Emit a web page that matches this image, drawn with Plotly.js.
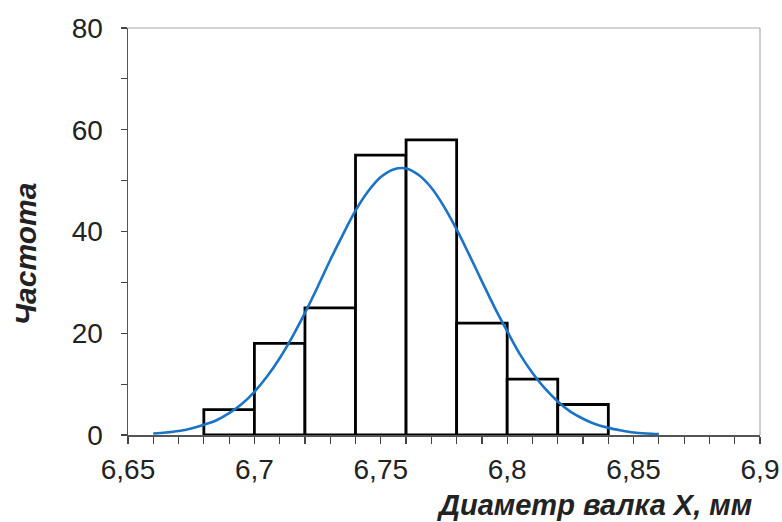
<!DOCTYPE html>
<html><head><meta charset="utf-8">
<script src="https://cdn.plot.ly/plotly-3.0.1.min.js"></script>
<style>body{margin:0;background:#fff}#c{width:782px;height:522px}</style>
</head><body><div id="c"></div>
<script>
// Histogram bins (centers) and frequencies
const binCenters = [6.69, 6.71, 6.73, 6.75, 6.77, 6.79, 6.81, 6.83];
const binWidth = 0.02;
const freq = [5, 18, 25, 55, 58, 22, 11, 6];

// Fitted normal curve
const curveX = [6.660,6.665,6.670,6.675,6.680,6.685,6.690,6.695,6.700,6.705,6.710,6.715,6.720,6.725,6.730,6.735,6.740,6.745,6.750,6.755,6.760,6.765,6.770,6.775,6.780,6.785,6.790,6.795,6.800,6.805,6.810,6.815,6.820,6.825,6.830,6.835,6.840,6.845,6.850,6.855,6.860];
const curveY = [0.3,0.5,0.8,1.3,2.0,2.9,4.3,6.1,8.5,11.5,15.1,19.3,24.0,29.1,34.4,39.4,44.1,47.9,50.7,52.2,52.4,51.1,48.6,44.9,40.4,35.4,30.2,25.1,20.4,15.9,12.2,9.1,6.6,4.6,3.2,2.1,1.4,0.9,0.5,0.3,0.2];

const xTickVals = [6.65, 6.7, 6.75, 6.8, 6.85, 6.9];
const xTickText = ['6,65', '6,7', '6,75', '6,8', '6,85', '6,9'];
const xMinorVals = [6.66,6.67,6.68,6.69,6.71,6.72,6.73,6.74,6.76,6.77,6.78,6.79,6.81,6.82,6.83,6.84,6.86,6.87,6.88,6.89];
const yTickVals = [0, 20, 40, 60, 80];
const yTickText = ['0', '20', '40', '60', '80'];
const yMinorVals = [10, 30, 50, 70];

const traces = [
  {type:'bar', x: binCenters, y: freq, width: binCenters.map(()=>binWidth),
   marker:{color:'#ffffff', line:{color:'#000000', width:2.8}}, hoverinfo:'skip'},
  {type:'scatter', mode:'lines', x: curveX, y: curveY,
   line:{color:'#1a73c6', width:2.6, shape:'spline'}, hoverinfo:'skip'}
];

const fam = 'Liberation Sans, Arial, sans-serif';
const tickFont = {family:fam, size:28, color:'#222'};
const layout = {
  width:782, height:522,
  margin:{l:128, r:22, t:28, b:87},
  paper_bgcolor:'#fff', plot_bgcolor:'#fff',
  showlegend:false,
  separators:', ',
  bargap:0,
  xaxis:{range:[6.65, 6.9], tickvals:xTickVals, ticktext:xTickText,
    ticks:'outside', ticklen:7, tickwidth:1.2, tickcolor:'#444',
    minor:{tickvals:xMinorVals, ticks:'outside', ticklen:7, tickwidth:1.2, tickcolor:'#444', showgrid:false},
    showline:true, linecolor:'#555', linewidth:1.5, showgrid:false, zeroline:false,
    tickfont:tickFont, ticklabelstandoff:2},
  yaxis:{range:[0, 80], tickvals:yTickVals, ticktext:yTickText,
    ticks:'outside', ticklen:6, tickwidth:1.2, tickcolor:'#444',
    minor:{tickvals:yMinorVals, ticks:'outside', ticklen:6, tickwidth:1.2, tickcolor:'#444', showgrid:false},
    showline:true, linecolor:'#555', linewidth:1.5, showgrid:false, zeroline:false,
    tickfont:tickFont, ticklabelstandoff:12},
  shapes:[
    {type:'line', xref:'paper', yref:'paper', x0:0, x1:1, y0:1, y1:1, line:{color:'#aaa', width:1.2}},
    {type:'line', xref:'paper', yref:'paper', x0:1, x1:1, y0:0, y1:1, line:{color:'#aaa', width:1.2}}
  ],
  annotations:[
    {text:'<b><i>Диаметр валка X, мм</i></b>', xref:'paper', yref:'paper', x:0.99, y:-0.172,
     xanchor:'right', yanchor:'middle', showarrow:false,
     font:{family:fam, size:29, color:'#222'}},
    {text:'<b><i>Частота</i></b>', xref:'paper', yref:'paper', x:-0.161, y:0.445,
     xanchor:'center', yanchor:'middle', textangle:-90, showarrow:false,
     font:{family:fam, size:30, color:'#222'}}
  ]
};
Plotly.newPlot('c', traces, layout, {staticPlot:true, displayModeBar:false});
</script></body></html>
